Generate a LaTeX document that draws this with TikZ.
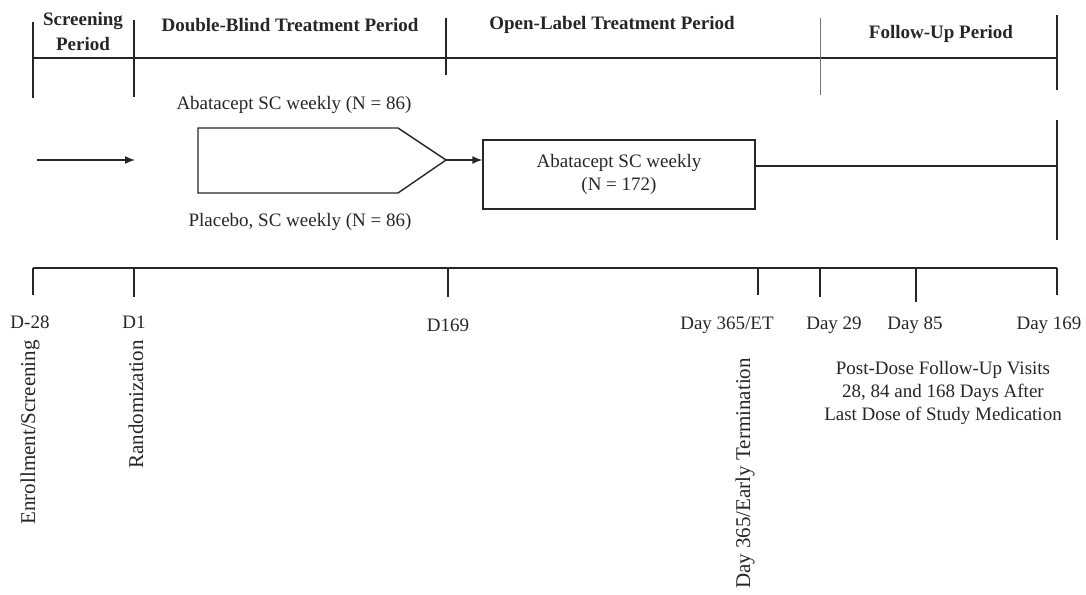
\documentclass[tikz,border=0pt]{standalone}
\usepackage{fontspec}
\setmainfont{Liberation Serif}
\usetikzlibrary{arrows.meta}
\tikzset{
  tl/.style={line width=1.4pt, draw=black!85},
  lbl/.style={font=\fontsize{19}{23}\selectfont, inner sep=0pt, text=black!85},
  hdr/.style={font=\bfseries\fontsize{19}{25}\selectfont, align=center, inner sep=0pt, text=black!85},
  vlbl/.style={font=\fontsize{21}{25}\selectfont, rotate=90, anchor=east, inner sep=0pt, text=black!85},
}

\begin{document}
\begin{tikzpicture}[x=1pt,y=-1pt]
    \useasboundingbox (0,0) rectangle (1086,594);

    % Periods
    \draw[tl] (33,58) -- (1057,58);
    \foreach \x/\a/\b in {33/22/98, 134/20/97, 446/18/75, 1057/15/90}
        \draw[tl] (\x,\a) -- (\x,\b);
    \draw[tl, draw=black!55, line width=0.8pt] (820,18) -- (820,95);
    \node[hdr] (scrHdr) at (83,32) {Screening\\Period};
    \node[hdr] (dbHdr) at (290,25) {Double-Blind Treatment Period};
    \node[hdr] (olHdr) at (612,25) {Open-Label Treatment Period};
    \node[hdr] (fuHdr) at (941,34) {Follow-Up Period};

    % Treatment arms
    \coordinate (scrStart) at (37,160);
    \coordinate (scrEnd) at (135,160);
    \draw[tl, -{Latex[length=10pt,width=8pt]}] (scrStart) -- (scrEnd);
    \node[lbl] (abaLbl) at (294,105) {Abatacept SC weekly (N = 86)};
    \draw[tl] (198,128) -- (398,128) -- (446,160) -- (398,193) -- (198,193) -- cycle;
    \coordinate (dbTip) at (446,160);
    \node[lbl] (plaLbl) at (300,222) {Placebo, SC weekly (N = 86)};
    \node[tl, draw, lbl, align=center, minimum width=272pt, minimum height=69pt] (olBox) at (619,174.5)
        {Abatacept SC weekly\\(N = 172)};
    \draw[tl, -{Latex[length=10pt,width=8pt]}] (dbTip) -- (dbTip -| olBox.west);
    \coordinate (fuEnd) at (1057,166);
    \draw[tl] (fuEnd -| olBox.east) -- (fuEnd);
    \draw[tl] (1057,120) -- (1057,240);

    % Time line
    \draw[tl] (33,268) -- (1057,268);
    \foreach \x/\b in {33/295, 134/297, 448/297, 758/295, 820/297, 916/302, 1057/295}
        \draw[tl] (\x,268) -- (\x,\b);
    \node[lbl] (dm28) at (30,322) {D-28};
    \node[lbl] (d1) at (134,322) {D1};
    \node[lbl] (d169) at (448,325) {D169};
    \node[lbl] (d365) at (727,325) {Day 365/ET};
    \node[lbl] (fu29) at (834,325) {Day 29};
    \node[lbl] (fu85) at (915,325) {Day 85};
    \node[lbl] (fu169) at (1049,325) {Day 169};

    % Events
    \node[vlbl] (enrLbl) at (30,340) {Enrollment/Screening};
    \node[vlbl] (rndLbl) at (136,340) {Randomization};
    \node[vlbl] (etLbl) at (745,358) {Day 365/Early Termination};
    \node[lbl, align=center] (postLbl) at (943,393)
        {Post-Dose Follow-Up Visits\\28, 84 and 168 Days After\\Last Dose of Study Medication};
\end{tikzpicture}
\end{document}
